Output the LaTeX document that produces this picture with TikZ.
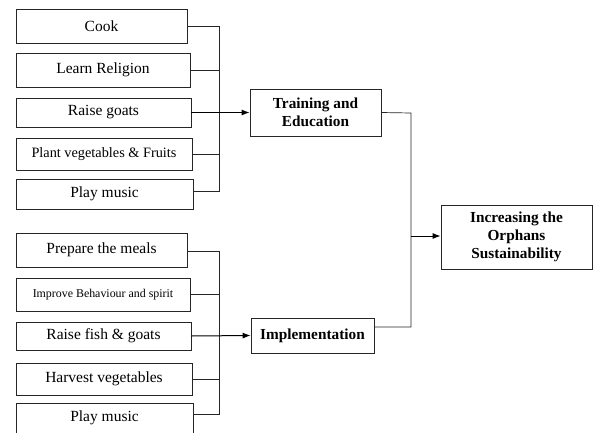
\documentclass[tikz,border=0pt]{standalone}
\usepackage{fontspec}
\setmainfont{Liberation Serif}
\usetikzlibrary{arrows.meta,calc}
\begin{document}
\begin{tikzpicture}[x=1pt,y=-1pt,
 box/.style={draw=black!85, line width=0.7pt, inner sep=0pt, align=center, font=\fontsize{15.5}{18}\selectfont},
 bbox/.style={box, font=\bfseries\fontsize{15.3}{18}\selectfont},
 conn/.style={draw=black!85, line width=0.7pt},
 arr/.style={draw=black, line width=1pt, -{Latex[length=8pt,width=6pt]}}]
\clip (0,0) rectangle (598,432);
% top group
\node[box, minimum width=171pt, minimum height=34pt] (cook) at (101.5,26) {Cook};
\node[box, minimum width=174pt, minimum height=34pt] (learn) at (103,70) {Learn Religion};
\node[box, minimum width=175pt, minimum height=29pt] (goats) at (103.5,112.5) {Raise goats};
\node[box, minimum width=176pt, minimum height=32pt, font=\fontsize{14.3}{17}\selectfont] (plant) at (104,154) {Plant vegetables \& Fruits};
\node[box, minimum width=177pt, minimum height=30pt] (musica) at (104.5,194) {Play music};
\node[bbox, minimum width=131pt, minimum height=47pt] (train) at (315.5,112.5) {Training and\\Education};
% bottom group
\node[box, minimum width=171pt, minimum height=34pt] (meals) at (101.5,250) {Prepare the meals};
\node[box, minimum width=174pt, minimum height=33pt, font=\fontsize{11.9}{14}\selectfont] (improve) at (103,294.5) {Improve Behaviour and spirit};
\node[box, minimum width=175pt, minimum height=28pt] (fish) at (103.5,336) {Raise fish \& goats};
\node[box, minimum width=176pt, minimum height=32pt] (harvest) at (104,379) {Harvest vegetables};
\node[box, minimum width=177pt, minimum height=30pt] (musicb) at (104.5,418) {Play music};
\node[bbox, minimum width=123pt, minimum height=35pt] (impl) at (312.5,335.5) {Implementation};
% final
\node[bbox, minimum width=151pt, minimum height=64pt] (final) at (516.5,237) {Increasing the\\Orphans\\Sustainability};
% bus coordinates
\coordinate (bt) at (219,26);
\coordinate (bb) at (219,191);
\coordinate (ct) at (219,251);
\coordinate (cb) at (219,414);
\coordinate (rt) at (411,113);
\coordinate (rb) at (411,327);
\coordinate (rm) at (411,236);
% top connectors
\draw[conn] (cook.east) -- (cook.east -| bt);
\draw[conn] (learn.east) -- (learn.east -| bt);
\draw[conn] (plant.east) -- (plant.east -| bt);
\draw[conn] (bt) -- (bb) -- ($(musica.east)+(0,-3)$);
\draw[arr] (goats.east) -- (train.west);
% bottom connectors
\draw[conn] ($(meals.east)+(0,1)$) -- (ct);
\draw[conn] (improve.east) -- (improve.east -| ct);
\draw[conn] (harvest.east) -- (harvest.east -| ct);
\draw[conn] (ct) -- (cb) -- ($(musicb.east)+(0,-4)$);
\draw[arr] (fish.east) -- (impl.west);
% right connectors
\draw[conn] (train.east) -- (rt) -- (rb) -- ($(impl.east)+(0,-8.5)$);
\draw[arr] (rm) -- (rm -| final.west);
\end{tikzpicture}
\end{document}
